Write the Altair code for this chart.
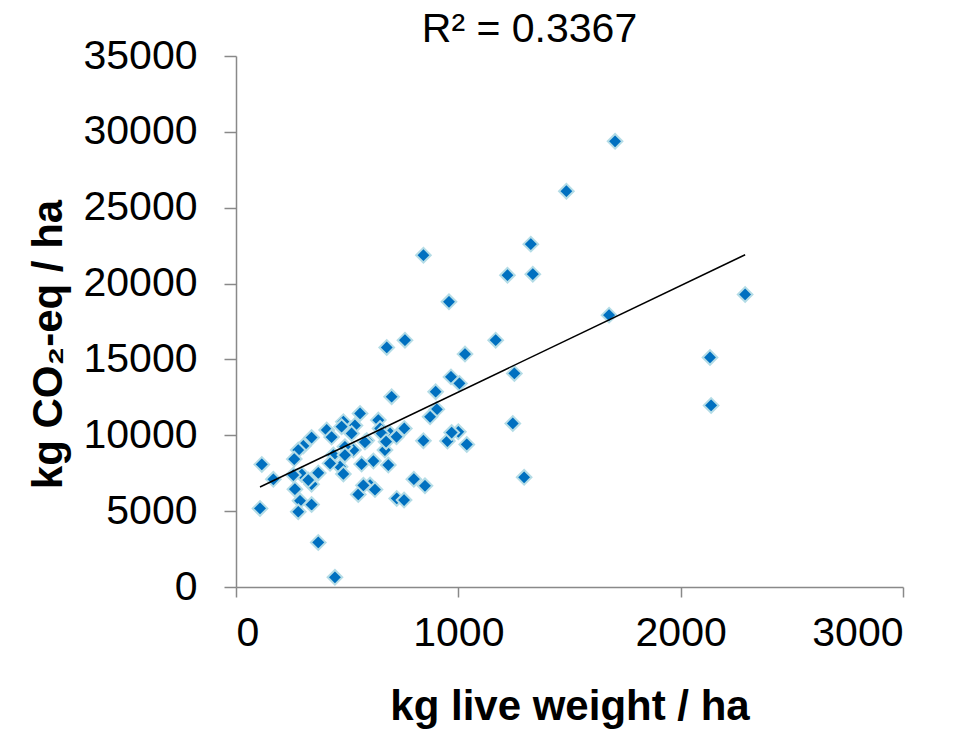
import altair as alt
import pandas as pd

live_weight = [1705, 1486, 843, 1326, 1221, 1335, 958, 1678, 2290, 760,
               1168, 2132, 2137, 1030, 967, 1005, 1252, 898, 903, 873,
               1245, 843, 951, 1000, 1038, 970, 1296, 850, 678, 700,
               800, 723, 756, 370, 445, 558, 483, 640, 535, 408,
               340, 303, 280, 262, 116, 168, 296, 370, 265, 340,
               288, 340, 280, 108, 430, 475, 520, 588, 648, 693,
               528, 438, 490, 618, 565, 670, 685, 468, 483, 325,
               603, 258, 757, 722, 655, 580, 550, 625, 573, 423,
               675, 490]
co2_eq = [29380, 26090, 21870, 22600, 20550, 20620, 18800, 17920, 19280, 16270,
          16270, 15130, 11970, 15350, 13850, 13420, 14080, 12870, 11710, 11220,
          10780, 9640, 9620, 10230, 9400, 10180, 7230, 6670, 15790, 12540,
          7110, 5840, 5730, 2940, 640, 11440, 10900, 11000, 10650, 10350,
          9850, 9300, 9030, 8430, 8080, 7100, 7420, 7520, 6450, 6780,
          5680, 5430, 4960, 5180, 9880, 10570, 10120, 9650, 10450, 10120,
          9030, 8700, 9240, 8300, 8100, 9030, 8040, 7930, 7450, 7050,
          6720, 7380, 10450, 9900, 10120, 9550, 6100, 6420, 6700, 8150,
          9580, 8700]
# linear trendline (start / end of the fitted line)
trend_x = [108, 2290]
trend_y = [6590, 21900]
r2_label = "R² = 0.3367"

df = pd.DataFrame({"x": live_weight, "y": co2_eq})
df_trend = pd.DataFrame({"x": trend_x, "y": trend_y})

FONT = "Liberation Sans"
GRAY = "#898989"

xenc = alt.X("x:Q", scale=alt.Scale(domain=[0, 3000], nice=False),
             axis=alt.Axis(title="kg live weight / ha", values=[0, 1000, 2000, 3000],
                           format="d", grid=False, domainColor=GRAY, tickColor=GRAY,
                           domainWidth=1.5, tickWidth=1.5, tickSize=10,
                           labelFontSize=41, labelFont=FONT, labelColor="black",
                           labelPadding=16, titleFontSize=42, titleFont=FONT,
                           titleFontWeight="bold", titleColor="black", titlePadding=33))
yenc = alt.Y("y:Q", scale=alt.Scale(domain=[0, 35000], nice=False),
             axis=alt.Axis(title="kg CO₂-eq / ha", values=list(range(0, 35001, 5000)),
                           format="d", grid=False, domainColor=GRAY, tickColor=GRAY,
                           domainWidth=1.5, tickWidth=1.5, tickSize=12,
                           labelFontSize=41, labelFont=FONT, labelColor="black",
                           labelPadding=27, titleFontSize=42, titleFont=FONT,
                           titleFontWeight="bold", titleColor="black", titlePadding=12,
                           titleY=288))

points = alt.Chart(df).mark_point(
    shape="diamond", filled=True, fill="#0070C0", stroke="#B4DCE6",
    strokeWidth=2, size=215, opacity=1
).encode(x=xenc, y=yenc)

trend = alt.Chart(df_trend).mark_line(
    color="black", strokeWidth=1.5
).encode(x="x:Q", y="y:Q")

chart = alt.layer(points, trend).properties(
    width=667, height=531,
    title=alt.TitleParams(r2_label, fontSize=41, font=FONT, fontWeight="normal",
                          color="black", anchor="middle", dx=-40, offset=-16,
                          frame="group"),
    autosize=alt.AutoSizeParams(type="none"),
    padding={"left": 236, "top": 56, "right": 50, "bottom": 144},
).configure_view(stroke=None)

chart.save("out.html", embed_options={"renderer": "svg", "actions": False})
